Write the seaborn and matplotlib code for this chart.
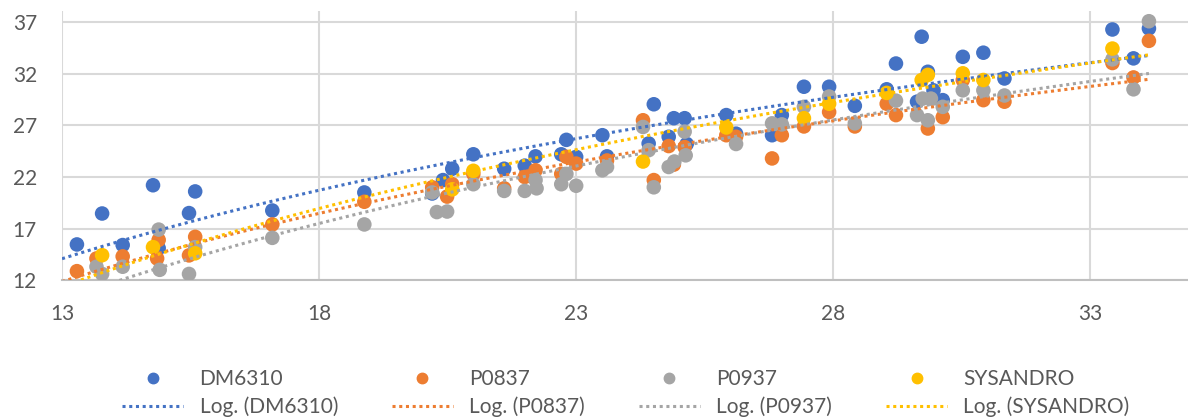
import numpy as np
import pandas as pd
import seaborn as sns
import matplotlib.pyplot as plt
from matplotlib.lines import Line2D

sns.set_style("white")
plt.rcParams['font.family'] = ['Lato', 'DejaVu Sans']

# values
dm6310_x = [13.29, 13.78, 14.18, 14.77, 14.88, 15.47, 15.59, 17.09, 18.88, 20.2, 20.41, 20.59,
            21.0, 21.6, 22.0, 22.21, 22.71, 22.81, 23.0, 23.51, 23.6, 24.41, 24.51, 24.8, 24.9,
            25.11, 25.15, 25.92, 26.11, 26.81, 27.0, 27.43, 27.92, 28.42, 29.04, 29.22, 29.63,
            29.72, 29.84, 29.95, 30.13, 30.52, 30.92, 31.33, 33.43, 33.84, 34.14]
dm6310_y = [15.46, 18.46, 15.4, 21.2, 15.1, 18.5, 20.6, 18.75, 20.5, 20.4, 21.7, 22.8,
            24.2, 22.8, 23.1, 24.0, 24.2, 25.6, 23.95, 26.05, 24.0, 25.25, 29.05, 25.9, 27.7,
            27.7, 25.2, 28.0, 26.2, 26.05, 28.0, 30.75, 30.75, 28.9, 30.5, 33.0, 29.3,
            35.6, 32.2, 30.4, 29.45, 33.65, 34.05, 31.55, 36.3, 33.5, 36.4]

p0837_x = [13.29, 13.67, 14.18, 14.88, 14.85, 15.47, 15.59, 17.09, 18.88, 20.2, 20.49, 20.59,
           21.0, 21.6, 22.0, 22.21, 22.71, 22.81, 23.0, 23.6, 24.3, 24.51, 24.8, 24.9, 25.11,
           25.92, 26.11, 26.81, 27.0, 27.43, 27.92, 28.42, 29.04, 29.22, 29.84, 30.13, 30.52,
           30.92, 31.33, 33.43, 33.84, 34.14]
p0837_y = [12.87, 14.1, 14.3, 15.9, 14.1, 14.4, 16.2, 17.4, 19.6, 21.0, 20.1, 21.3,
           22.3, 20.9, 22.0, 22.65, 22.3, 23.95, 23.3, 23.6, 27.5, 21.7, 25.0, 23.2, 24.9,
           26.05, 25.9, 23.8, 26.05, 26.9, 28.3, 26.9, 29.1, 28.0, 26.7, 27.8, 31.4,
           29.45, 29.3, 33.05, 31.65, 35.2]

p0937_x = [13.67, 13.78, 14.18, 14.88, 14.9, 15.47, 15.59, 17.09, 18.88, 20.2, 20.29, 20.49,
           21.0, 21.6, 22.0, 22.21, 22.23, 22.71, 22.81, 23.0, 23.51, 23.6, 24.3, 24.41, 24.51,
           24.8, 24.91, 25.11, 25.13, 26.11, 26.81, 27.0, 27.43, 27.92, 28.42, 29.22, 29.63,
           29.74, 29.84, 29.9, 30.13, 30.52, 30.92, 31.33, 33.43, 33.84, 34.14]
p0937_y = [13.3, 12.6, 13.3, 16.9, 13.0, 12.6, 15.2, 16.1, 17.4, 20.5, 18.6, 18.65,
           21.3, 20.65, 20.65, 21.7, 20.9, 21.3, 22.3, 21.15, 22.65, 22.97, 26.85, 24.6, 21.0,
           22.97, 23.5, 26.4, 24.1, 25.2, 27.2, 27.1, 28.8, 29.8, 27.2, 29.4, 28.0,
           29.6, 27.5, 29.6, 28.8, 30.4, 30.4, 29.9, 33.4, 30.5, 37.1]

sysandro_x = [13.78, 14.77, 15.59, 20.59, 21.0, 24.3, 25.92, 27.43, 27.92, 29.04, 29.72,
              29.84, 30.52, 30.92, 33.43]
sysandro_y = [14.42, 15.2, 14.6, 20.8, 22.6, 23.5, 26.8, 27.7, 29.1, 30.15, 31.4,
              31.9, 32.05, 31.4, 34.45]

names = ['DM6310', 'P0837', 'P0937', 'SYSANDRO']
colors = ['#4472C4', '#ED7D31', '#A5A5A5', '#FFC000']
series = [(dm6310_x, dm6310_y), (p0837_x, p0837_y), (p0937_x, p0937_y), (sysandro_x, sysandro_y)]

fig = plt.figure(figsize=(11.88, 4.2), dpi=100)
ax = fig.add_axes([0.0522, 0.333, 0.9478, 0.641])

handles = []
for name, color, (xs, ys) in zip(names, colors, series):
    d = pd.DataFrame({'x': xs, 'y': ys})
    sns.scatterplot(data=d, x='x', y='y', ax=ax, color=color, s=110,
                    edgecolor='none', linewidth=0, zorder=3)
    handles.append(Line2D([], [], marker='o', ls='none', color=color,
                          markersize=7.5, label=name))
    handles.append(Line2D([], [], ls=(0, (1, 1.2)), lw=2.2, color=color,
                          label='Log. (%s)' % name))

# trendlines span the shared x range (first axis tick to last data point)
ax.set_xlim(13, 34.14)
for color, (xs, ys) in zip(colors, series):
    d = pd.DataFrame({'x': xs, 'y': ys})
    sns.regplot(data=d, x='x', y='y', ax=ax, logx=True, scatter=False, ci=None,
                truncate=False, color=color,
                line_kws={'ls': (0, (1, 1.2)), 'lw': 2.2, 'zorder': 4})

ax.set_xlim(13, 34.9)
ax.set_ylim(12, 38.1)
ax.set_xticks([13, 18, 23, 28, 33])
ax.set_yticks([12, 17, 22, 27, 32, 37])
ax.grid(True, color='#d9d9d9', lw=1.5)
ax.set_axisbelow(True)
ax.set_xlabel('')
ax.set_ylabel('')
for s in ['top', 'right', 'left']:
    ax.spines[s].set_visible(False)
ax.spines['bottom'].set_color('#bfbfbf')
ax.spines['bottom'].set_linewidth(1.5)
ax.tick_params(axis='both', length=0, labelsize=15, colors='#595959')
ax.tick_params(axis='x', pad=17)
ax.tick_params(axis='y', pad=18)

fig.legend(handles=handles, ncol=4, loc='center', bbox_to_anchor=(0.527, 0.064),
           frameon=False, fontsize=15, labelcolor='#595959', handlelength=2.9,
           columnspacing=2.6, labelspacing=0.35, handletextpad=0.8)

fig.savefig('out.png', dpi=100)
